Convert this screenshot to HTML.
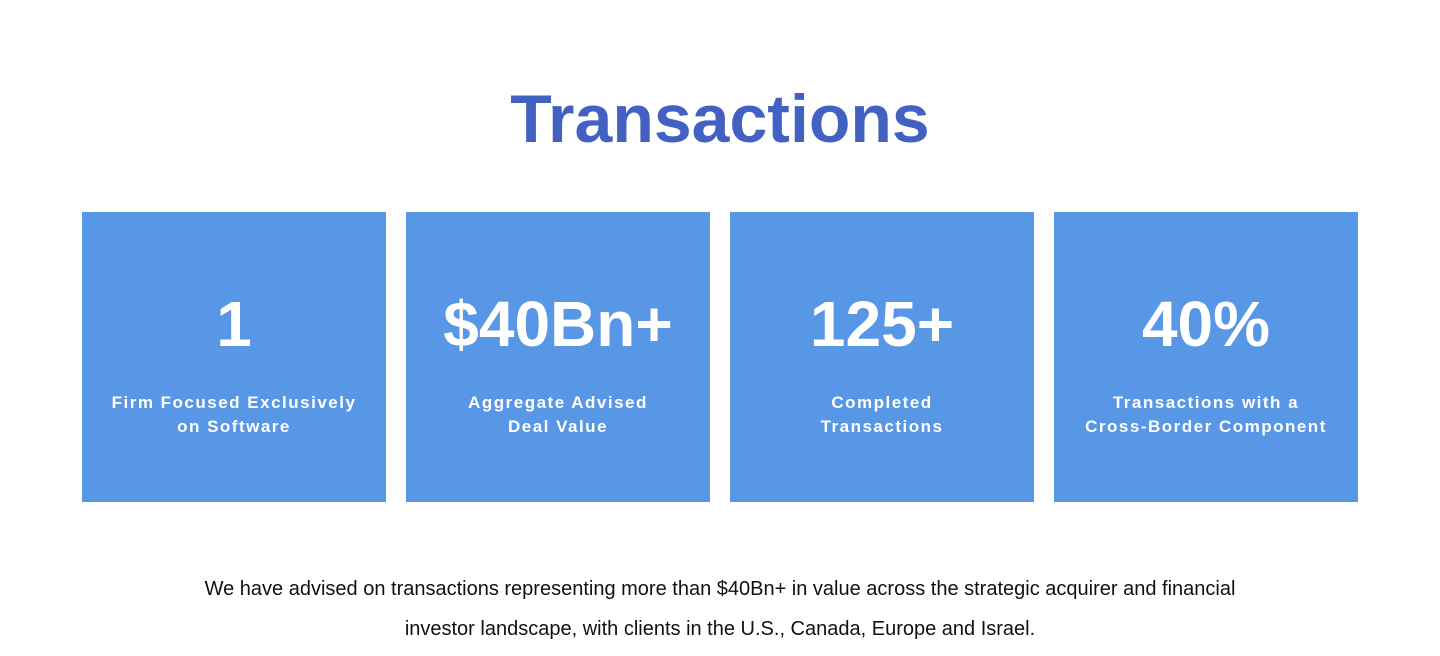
<!DOCTYPE html>
<html><head><meta charset="utf-8">
<style>
html,body{margin:0;padding:0;background:#fff;width:1440px;height:656px;overflow:hidden;font-family:"Liberation Sans",sans-serif;}
h1{position:absolute;left:0;width:1440px;top:79px;margin:0;text-align:center;font-size:68px;line-height:80px;font-weight:bold;color:#4361c2;letter-spacing:0;}
.card{position:absolute;top:212px;width:304px;height:290px;background:#5896e6;color:#fff;text-align:center;}
.card .v{position:absolute;left:0;width:100%;top:77px;font-size:64px;font-weight:bold;line-height:70px;}
.card .l{position:absolute;left:0;width:100%;top:179px;font-size:17px;font-weight:bold;letter-spacing:1.5px;line-height:24px;}
p{position:absolute;left:0;width:1440px;top:569px;margin:0;text-align:center;font-size:20px;line-height:40px;color:#111;}
</style></head><body>
<h1>Transactions</h1>
<div class="card" style="left:82px"><div class="v">1</div><div class="l">Firm Focused Exclusively<br>on Software</div></div>
<div class="card" style="left:406px"><div class="v">$40Bn+</div><div class="l">Aggregate Advised<br>Deal Value</div></div>
<div class="card" style="left:730px"><div class="v">125+</div><div class="l">Completed<br>Transactions</div></div>
<div class="card" style="left:1054px"><div class="v">40%</div><div class="l">Transactions with a<br>Cross-Border Component</div></div>
<p>We have advised on transactions representing more than $40Bn+ in value across the strategic acquirer and financial<br>investor landscape, with clients in the U.S., Canada, Europe and Israel.</p>
</body></html>
